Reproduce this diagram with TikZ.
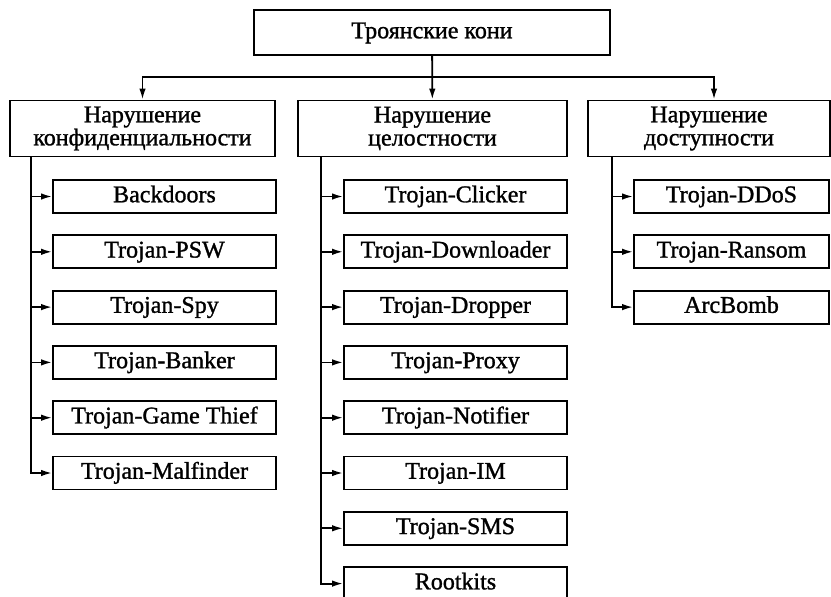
\documentclass[tikz,border=0pt]{standalone}
\usepackage{fontspec}
\setmainfont{Liberation Serif}
\newfontfamily\boxfont{Liberation Serif}[FakeBold=1.2]
\usetikzlibrary{arrows.meta, positioning}

\begin{document}
\begin{tikzpicture}[
  x=1pt, y=-1pt,
  node distance=20.5pt,
  box/.style={draw, line width=1.8pt, inner sep=0pt, align=center,
    font=\boxfont\fontsize{24}{23}\selectfont},
  head/.style={box, minimum height=56pt},
  leaf/.style={box, minimum height=33pt, minimum width=223pt,
    text height=16pt, text depth=4.5pt},
  leafr/.style={leaf, minimum width=195pt},
  arrow/.style={-{Latex[length=11pt,width=6.5pt]}, line width=1.8pt}
]
\useasboundingbox (0,0) rectangle (831,597);
% top and second level
\node[box, minimum width=356pt, minimum height=45pt,
  text height=16pt, text depth=4.5pt] (root) at (432,32.5) {Троянские кони};
\node[head, minimum width=265pt] (conf) at (142.5,128.5) {Нарушение\\конфиденциальности};
\node[head, minimum width=269pt] (integ) at (432.5,128.5) {Нарушение\\целостности};
\node[head, minimum width=242pt] (avail) at (709,128.5) {Нарушение\\доступности};
\coordinate (bus) at (0,77);
\draw[arrow] (root) -- (integ);
\draw[arrow] (root.south |- bus) -| (conf.north);
\draw[arrow] (root.south |- bus) -| ([xshift=5pt]avail.north);
% confidentiality
\node[leaf] (backdoors) at (164.5,196.5) {Backdoors};
\node[leaf, below=of backdoors] (psw) {Trojan-PSW};
\node[leaf, below=of psw] (spy) {Trojan-Spy};
\node[leaf, below=of spy] (banker) {Trojan-Banker};
\node[leaf, below=of banker] (gamethief) {Trojan-Game Thief};
\node[leaf, below=of gamethief] (malfinder) {Trojan-Malfinder};
\draw[arrow] ([xshift=22pt]conf.south west) |- (backdoors);
\draw[arrow] ([xshift=22pt]conf.south west) |- (psw);
\draw[arrow] ([xshift=22pt]conf.south west) |- (spy);
\draw[arrow] ([xshift=22pt]conf.south west) |- (banker);
\draw[arrow] ([xshift=22pt]conf.south west) |- (gamethief);
\draw[arrow] ([xshift=22pt]conf.south west) |- (malfinder);
% integrity
\node[leaf] (clicker) at (455.5,196.5) {Trojan-Clicker};
\node[leaf, below=of clicker] (downloader) {Trojan-Downloader};
\node[leaf, below=of downloader] (dropper) {Trojan-Dropper};
\node[leaf, below=of dropper] (proxy) {Trojan-Proxy};
\node[leaf, below=of proxy] (notifier) {Trojan-Notifier};
\node[leaf, below=of notifier] (im) {Trojan-IM};
\node[leaf, below=of im] (sms) {Trojan-SMS};
\node[leaf, below=of sms] (rootkits) {Rootkits};
\draw[arrow] ([xshift=24pt]integ.south west) |- (clicker);
\draw[arrow] ([xshift=24pt]integ.south west) |- (downloader);
\draw[arrow] ([xshift=24pt]integ.south west) |- (dropper);
\draw[arrow] ([xshift=24pt]integ.south west) |- (proxy);
\draw[arrow] ([xshift=24pt]integ.south west) |- (notifier);
\draw[arrow] ([xshift=24pt]integ.south west) |- (im);
\draw[arrow] ([xshift=24pt]integ.south west) |- (sms);
\draw[arrow] ([xshift=24pt]integ.south west) |- (rootkits);
% availability
\node[leafr] (ddos) at (731.5,196.5) {Trojan-DDoS};
\node[leafr, below=of ddos] (ransom) {Trojan-Ransom};
\node[leafr, below=of ransom] (arcbomb) {ArcBomb};
\draw[arrow] ([xshift=25pt]avail.south west) |- (ddos);
\draw[arrow] ([xshift=25pt]avail.south west) |- (ransom);
\draw[arrow] ([xshift=25pt]avail.south west) |- (arcbomb);
\end{tikzpicture}
\end{document}
